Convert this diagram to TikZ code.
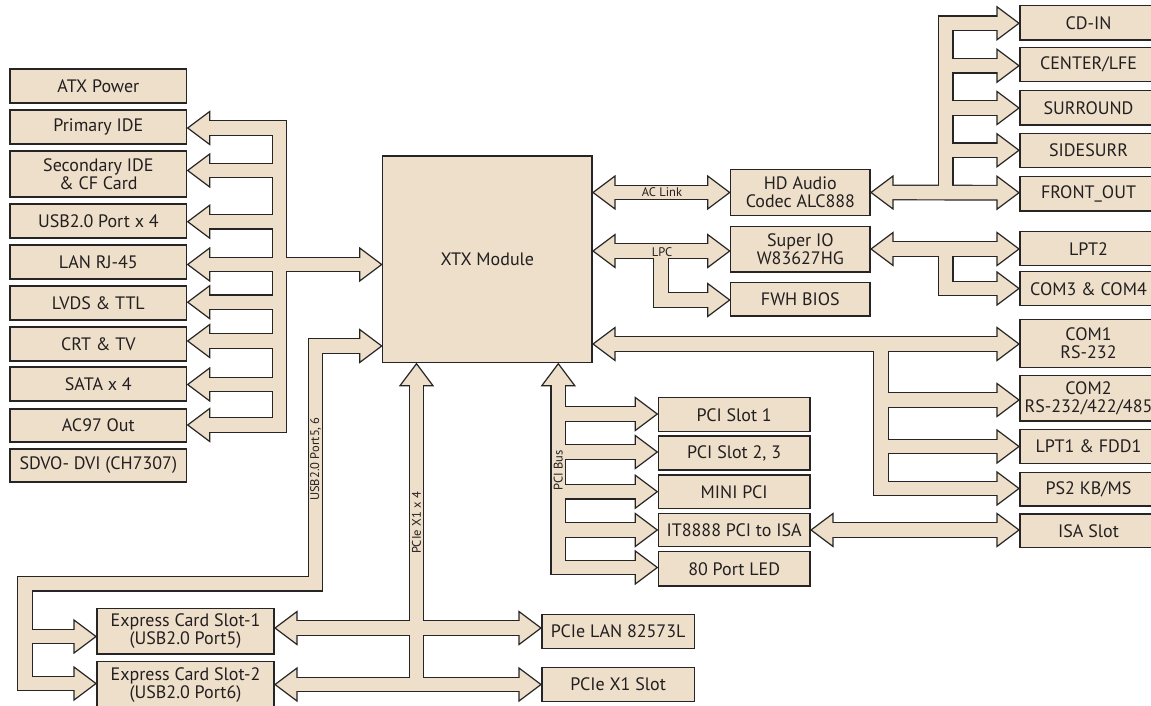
\documentclass[tikz,border=0pt]{standalone}
\usepackage{fontspec}
\setmainfont{PT Sans}
\usetikzlibrary{calc}
\definecolor{bfill}{RGB}{237,223,201}
\definecolor{bline}{RGB}{38,36,36}
\definecolor{btext}{RGB}{35,31,32}
\newcommand\boxfont{\fontsize{18}{18}\selectfont}
\newcommand\lblfont{\fontsize{12.5}{13}\selectfont}
\newcommand\busnet[1]{%
 \draw[#1] ($(e-pide)+(20,0)$) -| (lbx |- e-ac97) -- ($(e-ac97)+(20,0)$);
 \foreach \nm in {side,usb,lvds,crt,sata}{\draw[#1] ($(e-\nm)+(20,0)$) -- (lbx |- e-\nm);}
 \draw[#1] ($(e-lan)+(20,0)$) -- ($(e-xl1)+(-20,0)$);
 \draw[#1] ($(e-xl2)+(-20,0)$) -| (usby) -| (ecx |- e-ec2w) -- ($(e-ec2w)+(-20,0)$);
 \draw[#1] (ecx |- e-ec1w) -- ($(e-ec1w)+(-20,0)$);
 \draw[#1] ($(e-xb1)+(0,20)$) -- (e-xb1 |- e-ec2e);
 \draw[#1] ($(e-ec1e)+(20,0)$) -- ($(e-plan)+(-20,0)$);
 \draw[#1] ($(e-ec2e)+(20,0)$) -- ($(e-px1)+(-20,0)$);
 \draw[#1] ($(e-xb2)+(0,20)$) |- ($(e-led)+(-20,0)$);
 \foreach \nm in {p1,p2,mini,ite}{\draw[#1] (e-xb2 |- e-\nm) -- ($(e-\nm)+(-20,0)$);}
 \draw[#1] ($(e-xac)+(20,0)$) -- ($(e-hdw)+(-20,0)$);
 \draw[#1] ($(e-xlpc)+(20,0)$) -- ($(e-siow)+(-20,0)$);
 \draw[#1] (lpcx |- e-xlpc) |- ($(e-fwh)+(-20,0)$);
 \draw[#1] ($(e-hde)+(20,0)$) -- ($(e-fo)+(-20,0)$);
 \draw[#1] (audx |- e-fo) |- ($(e-cd)+(-20,0)$);
 \foreach \nm in {clfe,sur,ssr}{\draw[#1] (audx |- e-\nm) -- ($(e-\nm)+(-20,0)$);}
 \draw[#1] ($(e-sioe)+(20,0)$) -- ($(e-lpt2)+(-20,0)$);
 \draw[#1] (audx |- e-sioe) |- ($(e-com34)+(-20,0)$);
 \draw[#1] ($(e-xcom)+(20,0)$) -- ($(e-com1)+(-20,0)$);
 \draw[#1] (comx |- e-xcom) |- ($(e-ps2)+(-20,0)$);
 \foreach \nm in {com2,lpt1}{\draw[#1] (comx |- e-\nm) -- ($(e-\nm)+(-20,0)$);}
 \draw[#1] ($(e-itee)+(20,0)$) -- ($(e-isa)+(-20,0)$);
}
\begin{document}
\begin{tikzpicture}[x=1pt,y=-1pt,
  box/.style={draw=bline, line width=1.2pt, fill=bfill, text=btext, inner sep=0pt, outer sep=0pt, align=center, font=\boxfont},
  lbox/.style={box, minimum width=176.7pt},
  rbox/.style={box, minimum width=137pt},
  pbox/.style={box, minimum width=151.7pt},
  lbl/.style={text=btext, inner sep=0pt, font=\lblfont},
  busout/.style={draw=bline, line width=15.8pt, line join=miter, line cap=butt},
  busin/.style={draw=bfill, line width=13.4pt, line join=miter, line cap=butt},
  fathead/.style={draw=bline, fill=bfill, line width=1.2pt, line join=miter},
  hl/.pic={\draw[fathead] (1,0) -- (23,-16.5) -- (23,16.5) -- cycle;},
  hr/.pic={\draw[fathead] (-1,0) -- (-23,-16.5) -- (-23,16.5) -- cycle;},
  hu/.pic={\draw[fathead] (0,1) -- (-16.5,23) -- (16.5,23) -- cycle;}]
\path[use as bounding box] (0,0) rectangle (1151,706);
% left column
\node[lbox, minimum height=34pt] (atx) at (98.35,86) {ATX Power};
\node[lbox, minimum height=34pt] (pide) at (98.35,127) {Primary IDE};
\node[lbox, minimum height=46pt] (side) at (98.35,174) {Secondary IDE\\\& CF Card};
\node[lbox, minimum height=34pt] (usb) at (98.35,221) {USB2.0 Port x 4};
\node[lbox, minimum height=34pt] (lan) at (98.35,262) {LAN RJ-45};
\node[lbox, minimum height=34pt] (lvds) at (98.35,303) {LVDS \& TTL};
\node[lbox, minimum height=34pt] (crt) at (98.35,344) {CRT \& TV};
\node[lbox, minimum height=34pt] (sata) at (98.35,384) {SATA x 4};
\node[lbox, minimum height=33pt] (ac97) at (98.35,425.5) {AC97 Out};
\node[lbox, minimum height=33pt] (sdvo) at (98.35,465.5) {SDVO- DVI (CH7307)};
% centre
\node[box, minimum width=209.3pt, minimum height=206.7pt] (xtx) at (487.35,259.35) {XTX Module};
\node[box, minimum width=139.3pt, minimum height=46pt] (hd) at (800.35,192.3) {HD Audio\\Codec ALC888};
\node[box, minimum width=139.3pt, minimum height=45.3pt] (sio) at (800.35,249.35) {Super IO\\W83627HG};
\node[box, minimum width=139.3pt, minimum height=33.3pt] (fwh) at (800.35,299.35) {FWH BIOS};
% right column
\node[rbox, minimum height=34.3pt] (cd) at (1088.5,22.9) {CD-IN};
\node[rbox, minimum height=34pt] (clfe) at (1088.5,64.7) {CENTER/LFE};
\node[rbox, minimum height=34.3pt] (sur) at (1088.5,107.8) {SURROUND};
\node[rbox, minimum height=34.3pt] (ssr) at (1088.5,150.5) {SIDESURR};
\node[rbox, minimum height=34.3pt] (fo) at (1088.5,193.8) {FRONT\_OUT};
\node[rbox, minimum height=34pt] (lpt2) at (1088.5,248.7) {LPT2};
\node[rbox, minimum height=34pt] (com34) at (1088.5,288.7) {COM3 \& COM4};
\node[rbox, minimum height=48pt] (com1) at (1088.5,343.3) {COM1\\RS-232};
\node[rbox, minimum height=45.3pt] (com2) at (1088.5,398.3) {COM2\\RS-232/422/485};
\node[rbox, minimum height=34pt] (lpt1) at (1088.5,446.3) {LPT1 \& FDD1};
\node[rbox, minimum height=33.7pt] (ps2) at (1088.5,489.2) {PS2 KB/MS};
\node[rbox, minimum height=33.7pt] (isa) at (1088.5,530.8) {ISA Slot};
% PCI
\node[pbox, minimum height=34pt] (p1) at (734.15,414.7) {PCI Slot 1};
\node[pbox, minimum height=34pt] (p2) at (734.15,453) {PCI Slot 2, 3};
\node[pbox, minimum height=33.3pt] (mini) at (734.15,491.7) {MINI PCI};
\node[pbox, minimum height=33.3pt] (ite) at (734.15,530) {IT8888 PCI to ISA};
\node[pbox, minimum height=34.3pt] (led) at (734.15,568.8) {80 Port LED};
% bottom
\node[box, minimum width=152.3pt, minimum height=34pt] (plan) at (618.15,631.3) {PCIe LAN 82573L};
\node[box, minimum width=152.3pt, minimum height=34.4pt] (px1) at (618.15,684.5) {PCIe X1 Slot};
\node[box, minimum width=177pt, minimum height=45.5pt] (ec1) at (185.5,631.3) {Express Card Slot-1\\(USB2.0 Port5)};
\node[box, minimum width=177pt, minimum height=46pt] (ec2) at (185.5,684.7) {Express Card Slot-2\\(USB2.0 Port6)};
% connection points
\coordinate (e-pide) at ($(pide.east)+(0,1)$);
\coordinate (e-side) at ($(side.east)+(0,-3.5)$);
\coordinate (e-usb) at ($(usb.east)+(0,0.7)$);
\coordinate (e-lan) at ($(lan.east)+(0,2.5)$);
\coordinate (e-lvds) at ($(lvds.east)+(0,-0.8)$);
\coordinate (e-crt) at ($(crt.east)+(0,-3)$);
\coordinate (e-sata) at ($(sata.east)+(0,0.5)$);
\coordinate (e-ac97) at ($(ac97.east)+(0,-0.5)$);
\coordinate (e-xl1) at ($(xtx.west)+(0,5.15)$);
\coordinate (e-xl2) at ($(xtx.west)+(0,86.65)$);
\coordinate (e-xac) at ($(xtx.east)+(0,-66.85)$);
\coordinate (e-xlpc) at ($(xtx.east)+(0,-8.35)$);
\coordinate (e-xcom) at ($(xtx.east)+(0,84.65)$);
\coordinate (e-xb1) at ($(xtx.south west)+(33.8,0)$);
\coordinate (e-xb2) at ($(xtx.south west)+(175.6,0)$);
\coordinate (e-hdw) at ($(hd.west)+(0,0.2)$);
\coordinate (e-hde) at ($(hd.east)+(0,0.2)$);
\coordinate (e-siow) at ($(sio.west)+(0,1.65)$);
\coordinate (e-sioe) at ($(sio.east)+(0,-0.35)$);
\coordinate (e-fwh) at ($(fwh.west)+(0,0.65)$);
\coordinate (e-cd) at ($(cd.west)+(0,0.4)$);
\coordinate (e-clfe) at ($(clfe.west)+(0,1)$);
\coordinate (e-sur) at ($(sur.west)+(0,0.2)$);
\coordinate (e-ssr) at ($(ssr.west)+(0,-0.2)$);
\coordinate (e-fo) at ($(fo.west)+(0,-1.1)$);
\coordinate (e-lpt2) at ($(lpt2.west)+(0,0.3)$);
\coordinate (e-com34) at ($(com34.west)+(0,-0.2)$);
\coordinate (e-com1) at ($(com1.west)+(0,0.7)$);
\coordinate (e-com2) at ($(com2.west)+(0,1.7)$);
\coordinate (e-lpt1) at ($(lpt1.west)+(0,0.2)$);
\coordinate (e-ps2) at ($(ps2.west)+(0,-0.7)$);
\coordinate (e-isa) at ($(isa.west)+(0,-0.8)$);
\coordinate (e-p1) at ($(p1.west)+(0,-0.7)$);
\coordinate (e-p2) at ($(p2.west)+(0,-1)$);
\coordinate (e-mini) at (mini.west);
\coordinate (e-ite) at (ite.west);
\coordinate (e-itee) at (ite.east);
\coordinate (e-led) at ($(led.west)+(0,-1.3)$);
\coordinate (e-plan) at ($(plan.west)+(0,-3.3)$);
\coordinate (e-px1) at (px1.west);
\coordinate (e-ec1w) at ($(ec1.west)+(0,5.2)$);
\coordinate (e-ec1e) at ($(ec1.east)+(0,-3.3)$);
\coordinate (e-ec2w) at ($(ec2.west)+(0,-1.2)$);
\coordinate (e-ec2e) at ($(ec2.east)+(0,-0.2)$);
\coordinate (lbx) at (279.5,0);
\coordinate (usby) at (315.5,583.7);
\coordinate (ecx) at (24.8,0);
\coordinate (lpcx) at (661,0);
\coordinate (audx) at (945.7,0);
\coordinate (comx) at (881,0);
% buses: outline pass, heads, fill pass
\busnet{busout}
\foreach \nm in {pide,side,usb,lan,lvds,crt,sata,ac97,xac,xlpc,xcom,hde,sioe,itee,ec1e,ec2e}{\pic at (e-\nm) {hl};}
\foreach \nm in {xl1,xl2,ec1w,ec2w,plan,px1,p1,p2,mini,ite,led,hdw,siow,fwh,cd,clfe,sur,ssr,fo,lpt2,com34,com1,com2,lpt1,ps2,isa}{\pic at (e-\nm) {hr};}
\foreach \nm in {xb1,xb2}{\pic at (e-\nm) {hu};}
\busnet{busin}
% bus labels
\node[lbl] (l-ac) at (662,192.3) {AC Link};
\node[lbl] (l-lpc) at (662,252) {LPC};
\node[lbl, rotate=90] (l-usb) at (315.5,459) {USB2.0 Port5, 6};
\node[lbl, rotate=90] (l-pcie) at (416.5,523) {PCIe X1 x 4};
\node[lbl, rotate=90] (l-pci) at (558.3,470.5) {PCI Bus};
\end{tikzpicture}
\end{document}
